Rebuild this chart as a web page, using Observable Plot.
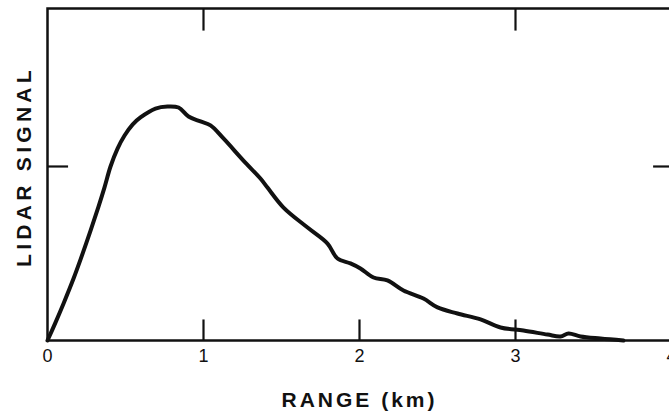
<!DOCTYPE html>
<html><head><meta charset="utf-8">
<script src="https://cdn.jsdelivr.net/npm/d3@7"></script>
<script src="https://cdn.jsdelivr.net/npm/@observablehq/plot@0.6"></script>
<style>html,body{margin:0;padding:0;background:#fff;overflow:hidden}</style>
</head><body><div id="chart"></div>
<script>
// Lidar return signal (arbitrary units, mid tick = 1) versus range (km)
const rangeKm = [0, 0.051, 0.103, 0.167, 0.212, 0.276, 0.327, 0.365, 0.404, 0.449, 0.494, 0.545, 0.596, 0.692, 0.769, 0.840, 0.904, 0.981, 1.045, 1.128, 1.256, 1.365, 1.410, 1.513, 1.667, 1.795, 1.859, 1.942, 2.006, 2.090, 2.179, 2.282, 2.410, 2.500, 2.628, 2.776, 2.904, 3.051, 3.205, 3.288, 3.340, 3.417, 3.545, 3.692];
const signal  = [0, 0.103, 0.213, 0.356, 0.466, 0.632, 0.770, 0.879, 1.000, 1.103, 1.178, 1.241, 1.282, 1.333, 1.345, 1.339, 1.287, 1.259, 1.236, 1.161, 1.034, 0.931, 0.879, 0.764, 0.649, 0.557, 0.471, 0.443, 0.414, 0.362, 0.345, 0.287, 0.241, 0.190, 0.155, 0.121, 0.075, 0.057, 0.034, 0.023, 0.040, 0.023, 0.011, 0.000];
const xTickValues = [0, 1, 2, 3, 4];
const xTickLabels = ["0", "1", "2", "3", "4"];
const bottomTickValues = [1, 2, 3];
const topTickValues = [1, 3];
const yTickValues = [1];
const xLabel = "RANGE (km)";
const yLabel = "LIDAR SIGNAL";

const xDomain = [0, 4];
const yDomain = [0, 1.908];
const data = rangeKm.map((r, i) => ({range: r, signal: signal[i]}));

const ink = "#111";
const tickLenY = 0.118;   // vertical tick length in signal units
const tickLenX = 0.135;   // horizontal tick length in km

const chart = Plot.plot({
  width: 669,
  height: 415,
  marginLeft: 47,
  marginRight: -2,
  marginTop: 8,
  marginBottom: 75,
  style: {background: "#fff", color: ink, fontFamily: "'Liberation Sans', Arial, Helvetica, sans-serif"},
  x: {domain: xDomain},
  y: {domain: yDomain, axis: null},
  marks: [
    Plot.axisX(xTickValues, {tickSize: 0, tickPadding: 9, fontSize: 18, tickFormat: d => xTickLabels[xTickValues.indexOf(d)], label: null, fill: ink}),
    Plot.ruleX(bottomTickValues, {x: d => d, y1: yDomain[0], y2: yDomain[0] + tickLenY, stroke: ink, strokeWidth: 2.2}),
    Plot.ruleX(topTickValues, {x: d => d, y1: yDomain[1], y2: yDomain[1] - tickLenY * 1.1, stroke: ink, strokeWidth: 2.2}),
    Plot.ruleY(yTickValues, {y: d => d, x1: xDomain[0], x2: xDomain[0] + tickLenX, stroke: ink, strokeWidth: 2.2}),
    Plot.ruleY(yTickValues, {y: d => d, x1: xDomain[1] - tickLenX * 0.85, x2: xDomain[1], stroke: ink, strokeWidth: 2.2}),
    Plot.frame({stroke: ink, strokeWidth: 2.5}),
    Plot.line(data, {x: "range", y: "signal", stroke: ink, strokeWidth: 4, curve: "catmull-rom", strokeLinejoin: "round", strokeLinecap: "round"}),
    Plot.text([xLabel], {x: 2, frameAnchor: "bottom", dy: 60, lineAnchor: "middle", textAnchor: "middle", fontSize: 21, fontWeight: "bold", fill: ink, text: d => d}),
    Plot.text([yLabel], {y: 1, frameAnchor: "left", dx: -23, rotate: -90, lineAnchor: "middle", textAnchor: "middle", fontSize: 21, fontWeight: "bold", fill: ink, text: d => d})
  ]
});
document.getElementById("chart").appendChild(chart);
const texts = d3.select(chart).selectAll("g[aria-label='text'] text");
texts.filter(function() { return this.textContent === xLabel; }).style("letter-spacing", "3px");
texts.filter(function() { return this.textContent === yLabel; }).style("letter-spacing", "4.3px");
</script>
</body></html>
